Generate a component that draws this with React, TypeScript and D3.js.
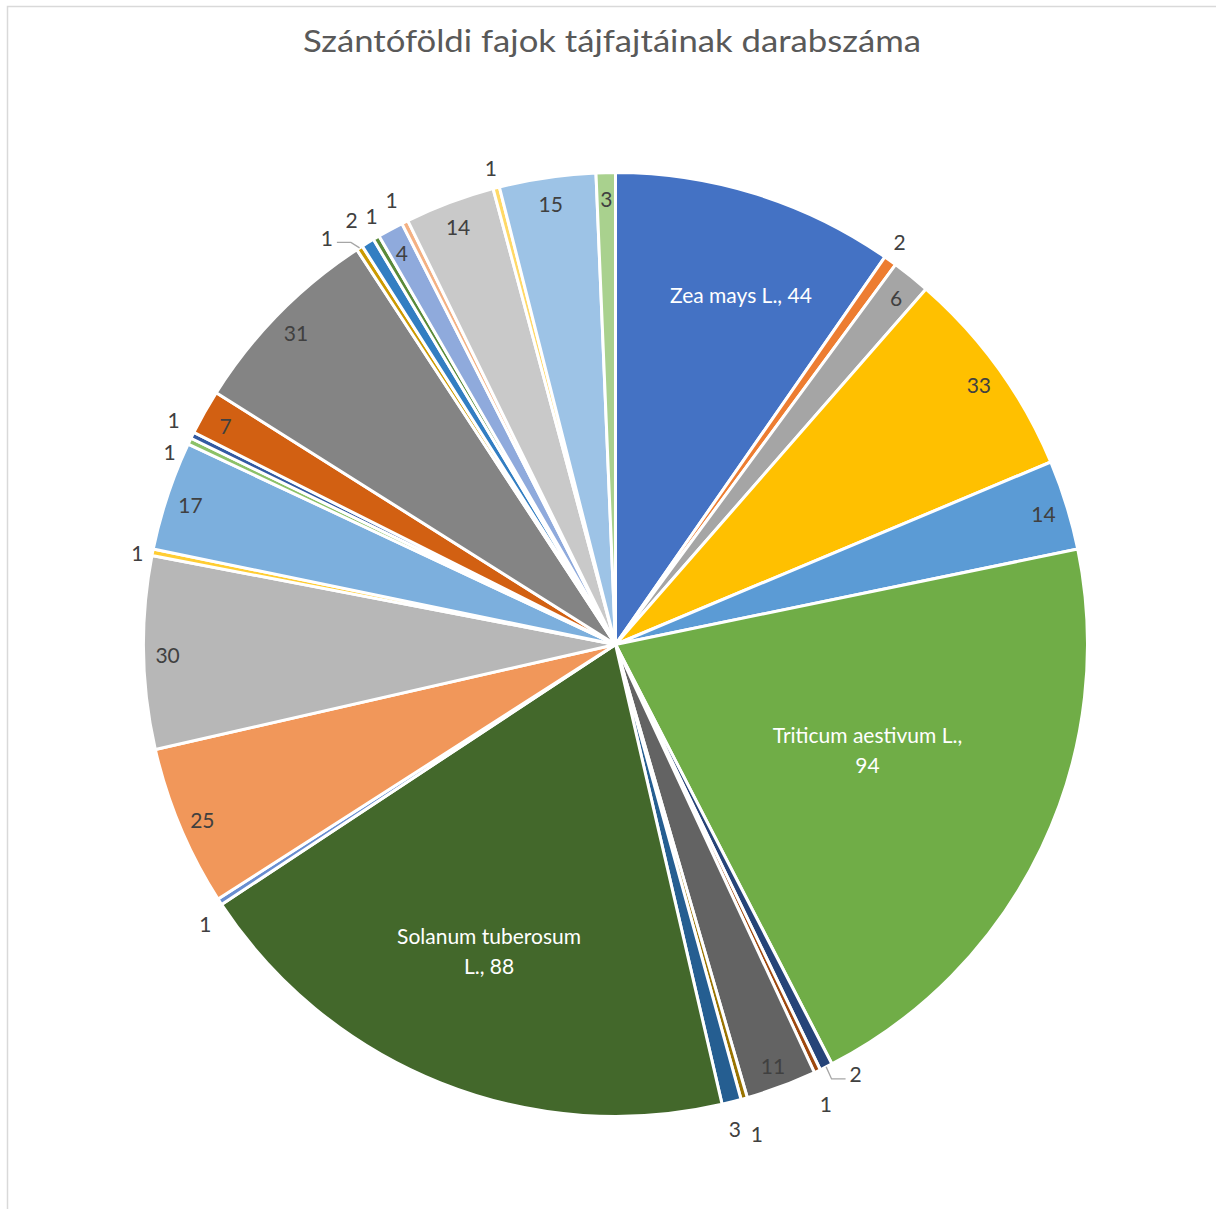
import React from "react";
import * as d3 from "d3";

const title = "Szántóföldi fajok tájfajtáinak darabszáma";

const categories: string[] = [
  "Zea mays L.", "", "", "", "", "Triticum aestivum L.",
  "", "", "", "", "", "Solanum tuberosum L.",
  "", "", "", "", "", "",
  "", "", "", "", "", "",
  "", "", "", "", "", "",
];

const values: number[] = [
  44, 2, 6, 33, 14, 94,
  2, 1, 11, 1, 3, 88,
  1, 25, 30, 1, 17, 1,
  1, 7, 31, 1, 2, 1,
  4, 1, 14, 1, 15, 3,
];

const colors: string[] = [
  "#4472C4", "#ED7D31", "#A5A5A5", "#FFC000", "#5B9BD5", "#70AD47",
  "#264478", "#9E480E", "#636363", "#997300", "#255E91", "#43682B",
  "#698ED0", "#F1975A", "#B7B7B7", "#FFCD33", "#7CAFDD", "#8CC168",
  "#335AA1", "#D26012", "#848484", "#CC9A00", "#327EC2", "#5A8A39",
  "#8FAADC", "#F4B183", "#C9C9C9", "#FFD966", "#9DC3E6", "#A9D18E",
];

// label lines for the named slices
const namedLabelLines: Record<number, string[]> = {
  0: ["Zea mays L., 44"],
  5: ["Triticum aestivum L.,", "94"],
  11: ["Solanum tuberosum", "L., 88"],
};

const W = 1216;
const H = 1209;
const CX = 615.5;
const CY = 644.5;
const R = 472;
const FONT = "Lato, 'Open Sans', 'Liberation Sans', sans-serif";

// label placement (best-fit emulation): [angle shift in degrees, radius]
const namedPlacement: Record<number, [number, number]> = {
  0: [2.3, 372],
  5: [-2.9, 273],
  11: [0.7, 331],
};
const outsidePlacement: Record<number, [number, number]> = {
  1: [-0.4, 493],
  6: [-2.7, 492],
  7: [0.7, 505],
  9: [-0.3, 509],
  10: [0.4, 499],
  12: [-1.2, 496],
  15: [-0.4, 487],
  17: [-2.1, 486],
  18: [0.7, 496],
  21: [-2.5, 499],
  22: [-0.2, 500],
  23: [0.8, 493],
  25: [-0.2, 498],
  27: [0, 493],
};
const leaderLabels = new Set([6, 21]);
const INSIDE_R = 448;

const polar = (a: number, r: number): [number, number] => [
  CX + r * Math.sin(a),
  CY - r * Math.cos(a),
];

export default function App() {
  const data = values.map((v, i) => ({ v, i, name: categories[i] }));
  const pie = d3
    .pie<{ v: number; i: number; name: string }>()
    .sort(null)
    .value((d) => d.v)
    .startAngle(0)
    .endAngle(2 * Math.PI);
  const arcs = pie(data);
  const arc = d3
    .arc<d3.PieArcDatum<{ v: number; i: number; name: string }>>()
    .innerRadius(0)
    .outerRadius(R);

  const labelFs = 21;

  return (
    <svg
      width={W}
      height={H}
      style={{ position: "absolute", left: 0, top: 0, background: "#fff" }}
      fontFamily={FONT}
    >
      <rect x={7.5} y={6.5} width={1400} height={1400} fill="#fff" stroke="#D9D9D9" strokeWidth={1.5} />
      <text
        x={612}
        y={52}
        textAnchor="middle"
        fontSize={31}
        fill="#595959"
        textLength={618}
        lengthAdjust="spacingAndGlyphs"
      >
        {title}
      </text>
      <g transform={`translate(${CX},${CY})`}>
        {arcs.map((a) => (
          <path
            key={a.index}
            d={arc(a) || ""}
            fill={colors[a.data.i]}
            stroke="#fff"
            strokeWidth={3}
            strokeLinejoin="round"
          />
        ))}
      </g>
      <g fontSize={labelFs}>
        {arcs.map((a) => {
          const i = a.data.i;
          const mid = (a.startAngle + a.endAngle) / 2;
          if (namedLabelLines[i]) {
            const [dA, r] = namedPlacement[i];
            const [x, y] = polar(mid + (dA * Math.PI) / 180, r);
            const lines = namedLabelLines[i];
            const lh = 30;
            const y0 = y - ((lines.length - 1) * lh) / 2 + 1;
            return (
              <text key={i} textAnchor="middle" fill="#fff">
                {lines.map((l, k) => (
                  <tspan key={k} x={x} y={y0 + k * lh} dy="0.35em">
                    {l}
                  </tspan>
                ))}
              </text>
            );
          }
          if (outsidePlacement[i]) {
            const [dA, r] = outsidePlacement[i];
            const [x, y] = polar(mid + (dA * Math.PI) / 180, r);
            let leader = null;
            if (leaderLabels.has(i)) {
              const [ex, ey] = polar(mid, R);
              const side = ex < x ? -1 : 1;
              const pts: [number, number][] = [
                [x + side * 10, y + 5],
                [x + side * 24, y + 5],
                [ex, ey],
              ];
              leader = (
                <path
                  d={d3.line()(pts) || ""}
                  fill="none"
                  stroke="#A6A6A6"
                  strokeWidth={1.3}
                />
              );
            }
            return (
              <g key={i}>
                {leader}
                <text x={x} y={y + 1} dy="0.35em" textAnchor="middle" fill="#404040">
                  {a.data.v}
                </text>
              </g>
            );
          }
          const [x, y] = polar(mid, INSIDE_R);
          return (
            <text key={i} x={x} y={y + 3} dy="0.35em" textAnchor="middle" fill="#404040">
              {a.data.v}
            </text>
          );
        })}
      </g>
    </svg>
  );
}
